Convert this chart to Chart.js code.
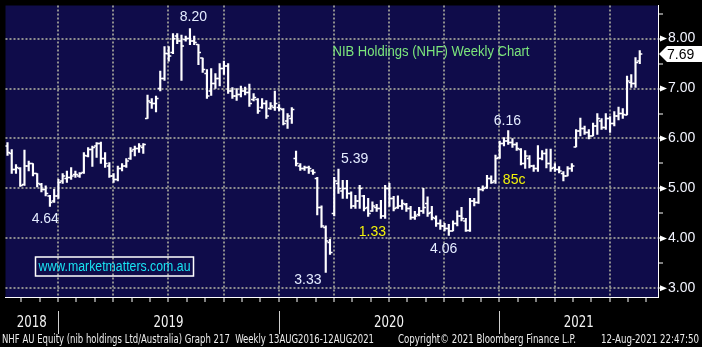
<!DOCTYPE html>
<html>
<head>
<meta charset="utf-8">
<title>NIB Holdings (NHF) Weekly Chart</title>
<script src="https://cdn.jsdelivr.net/npm/chart.js@4"></script>
<style>
  html, body { margin: 0; padding: 0; background: #000; }
  canvas { display: block; }
</style>
</head>
<body>
<canvas id="chart" width="702" height="347"></canvas>
<script>
// weekly bars, week 0 = early Oct 2018, last week = 12 Aug 2021
const open = [5.85,5.70,5.38,5.40,5.08,5.45,5.50,5.30,5.08,4.98,
  4.85,4.75,4.85,5.15,5.20,5.22,5.28,5.25,5.32,5.65,
  5.78,5.85,5.90,5.60,5.45,5.25,5.18,5.40,5.45,5.60,
  5.78,5.80,5.82,6.40,6.72,6.70,7.00,7.20,7.70,7.72,
  8.05,7.95,7.98,8.00,7.95,7.88,7.61,7.30,6.95,7.10,
  7.20,7.40,7.45,6.95,6.85,6.88,6.95,6.92,6.78,6.78,
  6.62,6.70,6.60,6.62,6.62,6.58,6.35,6.40,5.60,5.45,
  5.40,5.42,5.35,5.20,4.62,4.22,3.92,4.50,5.10,4.95,
  5.00,4.90,4.65,4.75,4.85,4.62,4.55,4.62,4.60,4.45,
  5.00,4.80,4.62,4.65,4.68,4.60,4.42,4.48,4.55,4.70,
  4.52,4.40,4.30,4.25,4.20,4.15,4.30,4.45,4.35,4.16,
  4.75,4.72,4.98,5.02,5.20,5.15,5.62,5.90,5.95,5.92,
  5.88,5.78,5.50,5.60,5.45,5.40,5.60,5.70,5.50,5.42,
  5.38,5.30,5.25,5.40,5.83,6.15,6.20,6.12,6.05,6.25,
  6.35,6.22,6.40,6.30,6.45,6.50,6.47,7.12,7.10,7.55];
const high = [5.92,5.78,5.48,5.42,5.77,5.55,5.50,5.30,5.10,5.05,
  4.86,4.98,5.18,5.30,5.35,5.42,5.35,5.32,5.72,5.82,
  5.85,5.92,5.93,5.72,5.52,5.30,5.45,5.50,5.60,5.82,
  5.85,5.90,5.90,6.87,6.80,6.85,7.35,7.84,7.84,8.10,
  8.10,8.07,8.05,8.20,8.05,7.88,7.61,7.38,7.40,7.30,
  7.50,7.55,7.50,7.02,7.00,7.05,7.03,7.09,6.90,6.80,
  6.80,6.76,6.72,6.95,6.68,6.60,6.50,6.62,5.75,5.50,
  5.45,5.45,5.38,5.22,4.65,4.25,3.98,5.22,5.39,5.16,
  5.16,4.93,4.86,5.06,4.86,4.80,4.73,4.68,4.76,5.06,
  5.10,4.84,4.85,4.77,4.70,4.64,4.54,4.62,5.00,4.83,
  4.64,4.45,4.37,4.30,4.28,4.35,4.55,4.62,4.40,4.80,
  4.80,5.02,5.05,5.26,5.25,5.67,5.95,6.02,6.16,6.00,
  5.92,5.80,5.76,5.66,5.47,5.86,5.76,5.79,5.79,5.50,
  5.44,5.34,5.44,5.50,6.18,6.41,6.25,6.18,6.31,6.50,
  6.40,6.50,6.44,6.54,6.63,6.60,7.25,7.28,7.62,7.76];
const low = [5.66,5.30,5.30,5.04,5.06,5.35,5.25,5.03,4.93,4.85,
  4.64,4.72,4.80,5.10,5.12,5.18,5.22,5.22,5.30,5.63,
  5.44,5.62,5.50,5.42,5.22,5.12,5.15,5.35,5.42,5.58,
  5.65,5.72,5.70,6.40,6.60,6.53,6.95,7.16,7.55,7.70,
  7.90,7.16,7.95,7.88,7.88,7.48,7.32,6.80,6.86,7.00,
  7.05,7.28,6.90,6.80,6.76,6.83,6.87,6.64,6.75,6.50,
  6.60,6.40,6.58,6.56,6.55,6.27,6.20,6.30,5.45,5.36,
  5.36,5.30,5.28,4.47,4.22,3.32,3.68,4.45,4.90,4.80,
  4.80,4.60,4.60,4.60,4.55,4.44,4.54,4.54,4.40,4.40,
  4.64,4.55,4.60,4.58,4.54,4.38,4.38,4.45,4.50,4.44,
  4.37,4.24,4.18,4.15,4.06,4.15,4.25,4.35,4.14,4.14,
  4.65,4.70,4.95,5.00,5.10,5.10,5.60,5.85,5.88,5.82,
  5.76,5.47,5.40,5.41,5.34,5.34,5.57,5.41,5.34,5.34,
  5.31,5.15,5.25,5.34,5.83,6.05,6.08,5.99,6.05,6.08,
  6.18,6.18,6.12,6.25,6.37,6.40,6.47,7.02,7.02,7.50];
const close = [5.72,5.38,5.42,5.06,5.45,5.50,5.30,5.10,4.98,4.90,
  4.72,4.85,5.12,5.25,5.22,5.25,5.28,5.30,5.66,5.78,
  5.82,5.90,5.60,5.50,5.25,5.18,5.40,5.45,5.55,5.75,
  5.80,5.85,5.88,6.75,6.70,6.80,7.20,7.70,7.65,8.00,
  7.95,7.85,8.00,7.95,7.92,7.72,7.38,6.85,7.10,7.20,
  7.40,7.45,6.95,6.85,6.88,6.95,6.92,6.70,6.82,6.55,
  6.70,6.45,6.65,6.70,6.60,6.30,6.45,6.58,5.50,5.40,
  5.42,5.40,5.32,4.62,4.25,3.95,3.72,5.15,5.00,5.00,
  4.90,4.65,4.75,5.00,4.60,4.50,4.65,4.60,4.45,5.00,
  4.80,4.60,4.65,4.70,4.60,4.42,4.45,4.55,4.62,4.50,
  4.42,4.30,4.25,4.20,4.15,4.30,4.45,4.40,4.16,4.75,
  4.72,4.98,5.00,5.20,5.12,5.60,5.90,5.95,5.92,5.88,
  5.80,5.50,5.65,5.45,5.40,5.60,5.70,5.50,5.40,5.38,
  5.35,5.25,5.40,5.45,6.15,6.20,6.12,6.05,6.25,6.40,
  6.22,6.40,6.30,6.45,6.50,6.48,7.15,7.10,7.52,7.69];

// axes
const yTicks = [3, 3.5, 4, 4.5, 5, 5.5, 6, 6.5, 7, 7.5, 8, 8.5];
const years = ['2018', '2019', '2020', '2021'];
const yearStarts = [11.92, 63.95, 115.9];   // week index of 1 Jan 2019/2020/2021
const xMin = -0.47, xMax = 153.3;
const yMin = 2.827, yMax = 8.662;

// text on the chart (week, price)
const notes = [
  { text: '8.20', week: 43.8, value: 8.42, color: '#e4ecff' },
  { text: '4.64', week: 8.9, value: 4.38, color: '#e4ecff' },
  { text: '5.39', week: 81.8, value: 5.58, color: '#e4ecff' },
  { text: '1.33', week: 86.0, value: 4.12, color: '#f2f20a' },
  { text: '3.33', week: 70.8, value: 3.16, color: '#e4ecff' },
  { text: '4.06', week: 102.8, value: 3.79, color: '#e4ecff' },
  { text: '6.16', week: 117.8, value: 6.34, color: '#e4ecff' },
  { text: '85c', week: 119.4, value: 5.17, color: '#f2f20a' }
];
const title = { text: 'NIB Holdings (NHF) Weekly Chart', week: 99.8, value: 7.72 };
const footer = [
  'NHF AU Equity (nib holdings Ltd/Australia) Graph 217  Weekly 13AUG2016-12AUG2021',
  'Copyright\u00a9 2021 Bloomberg Finance L.P.',
  '12-Aug-2021 22:47:50'
];

const PLOT_BG = '#0f0c4a';
const GRID = '#8e8e8e';
const FONT = "'Liberation Sans', Arial, sans-serif";
const NARROW = "'Liberation Sans Narrow', 'DejaVu Sans Condensed', 'Liberation Sans', sans-serif";

// month ticks along the bottom, every third one gets a grid line
const monthTicks = [];
for (let m = -2; m <= 32; m++) {
  const w = yearStarts[0] + m * 52 / 12;
  if (w > xMin && w < xMax) monthTicks.push({ value: w, major: m % 3 === 0 });
}

const weeks = close.map((c, i) => i);
const rangeData = weeks.map(i => ({ x: i, y: [low[i], high[i]] }));
const openData = weeks.map(i => ({ x: i - 0.3, y: open[i] }));
const closeData = weeks.map(i => ({ x: i + 0.3, y: close[i] }));

const overlay = {
  id: 'overlay',
  beforeDraw(chart) {
    const { ctx, chartArea: a } = chart;
    ctx.save();
    ctx.fillStyle = '#000';
    ctx.fillRect(0, 0, chart.width, chart.height);
    ctx.fillStyle = PLOT_BG;
    ctx.fillRect(a.left, a.top, a.right - a.left, a.bottom - a.top);
    ctx.restore();
  },
  afterDraw(chart) {
    const { ctx, chartArea: a, scales } = chart;
    const xs = scales.x, ys = scales.y;
    ctx.save();

    // labels on the plot
    ctx.textAlign = 'center';
    ctx.textBaseline = 'middle';
    ctx.font = '14px ' + FONT;
    notes.forEach(n => {
      ctx.fillStyle = n.color;
      ctx.fillText(n.text, xs.getPixelForValue(n.week), ys.getPixelForValue(n.value));
    });
    ctx.font = '14px ' + FONT;
    ctx.fillStyle = '#7ce67c';
    ctx.fillText(title.text, xs.getPixelForValue(title.week), ys.getPixelForValue(title.value), 197);

    // website box
    const bx = a.left + 30, by = a.bottom - 40;
    ctx.strokeStyle = '#fff';
    ctx.lineWidth = 1.5;
    ctx.strokeRect(bx, by, 158, 19);
    ctx.fillStyle = '#19e3f2';
    ctx.font = '14px ' + FONT;
    ctx.fillText('www.marketmatters.com.au', bx + 79, by + 10, 152);

    // arrows at the price levels
    ctx.fillStyle = '#fff';
    yTicks.filter(v => Number.isInteger(v)).forEach(v => {
      const py = ys.getPixelForValue(v);
      ctx.beginPath();
      ctx.moveTo(a.right + 2, py - 3);
      ctx.lineTo(a.right + 9, py);
      ctx.lineTo(a.right + 2, py + 3);
      ctx.closePath();
      ctx.fill();
    });

    // last price tag
    const last = close[close.length - 1];
    const ty = ys.getPixelForValue(last);
    ctx.beginPath();
    ctx.moveTo(a.right + 1, ty);
    ctx.lineTo(a.right + 9, ty - 8);
    ctx.lineTo(chart.width, ty - 8);
    ctx.lineTo(chart.width, ty + 8);
    ctx.lineTo(a.right + 9, ty + 8);
    ctx.closePath();
    ctx.fill();
    ctx.fillStyle = '#000';
    ctx.textAlign = 'left';
    ctx.font = '14px ' + FONT;
    ctx.fillText(last.toFixed(2), a.right + 9, ty + 1);

    // year strip
    const edges = [a.left].concat(yearStarts.map(w => xs.getPixelForValue(w)), [a.right]);
    ctx.fillStyle = '#f4f4f4';
    ctx.textAlign = 'center';
    ctx.font = '16px ' + NARROW;
    years.forEach((yr, i) => {
      ctx.fillText(yr, (edges[i] + edges[i + 1]) / 2, a.bottom + 26, 30);
    });
    ctx.strokeStyle = '#d0d0d0';
    ctx.lineWidth = 1;
    yearStarts.forEach(w => {
      const px = Math.round(xs.getPixelForValue(w)) + 0.5;
      ctx.beginPath();
      ctx.moveTo(px, a.bottom + 14);
      ctx.lineTo(px, a.bottom + 37);
      ctx.stroke();
    });

    // footer
    ctx.font = '12px ' + NARROW;
    ctx.textAlign = 'left';
    ctx.fillStyle = '#ececec';
    ctx.fillText(footer[0], 2, 340, 372);
    ctx.fillText(footer[1], 398, 340, 178);
    ctx.fillText(footer[2], 601, 340, 98);
    ctx.restore();
  }
};

new Chart(document.getElementById('chart'), {
  type: 'bar',
  data: {
    datasets: [
      {
        type: 'bar',
        data: rangeData,
        backgroundColor: '#ffffff',
        borderWidth: 0,
        barThickness: 1.5
      },
      {
        type: 'scatter',
        data: openData,
        pointStyle: 'line',
        pointRadius: 1.3,
        pointBorderWidth: 1.5,
        pointBorderColor: '#ffffff'
      },
      {
        type: 'scatter',
        data: closeData,
        pointStyle: 'line',
        pointRadius: 1.3,
        pointBorderWidth: 1.5,
        pointBorderColor: '#ffffff'
      }
    ]
  },
  options: {
    responsive: false,
    animation: false,
    events: [],
    layout: { padding: 0 },
    plugins: { legend: { display: false }, tooltip: { enabled: false } },
    scales: {
      x: {
        type: 'linear',
        min: xMin,
        max: xMax,
        bounds: 'data',
        offset: false,
        afterBuildTicks: s => { s.ticks = monthTicks.map(t => ({ value: t.value, major: t.major })); },
        afterFit: s => { s.height = 50; s.paddingLeft = 0; s.paddingRight = 0; },
        ticks: { display: false },
        grid: {
          offset: false,
          color: c => (c.tick && c.tick.major) ? GRID : 'rgba(0,0,0,0)',
          lineWidth: 2,
          tickWidth: 1,
          tickLength: 5,
          tickColor: '#ffffff'
        },
        border: { display: true, color: '#ffffff', width: 1, dash: [2, 2] }
      },
      y: {
        type: 'linear',
        position: 'right',
        min: yMin,
        max: yMax,
        bounds: 'data',
        beginAtZero: false,
        afterBuildTicks: s => { s.ticks = yTicks.map(v => ({ value: v })); },
        afterFit: s => { s.width = 44; s.paddingTop = 0; s.paddingBottom = 0; },
        ticks: {
          autoSkip: false,
          padding: 5,
          color: '#f2f4ff',
          font: { family: FONT, size: 14 },
          callback: v => Number.isInteger(v) ? v.toFixed(2) : ''
        },
        grid: {
          color: c => (c.tick && Number.isInteger(c.tick.value)) ? GRID : 'rgba(0,0,0,0)',
          lineWidth: 2,
          tickWidth: 1,
          tickLength: 5,
          tickColor: '#ffffff'
        },
        border: { display: true, color: '#ffffff', width: 1, dash: [2, 2] }
      }
    }
  },
  plugins: [overlay]
});
</script>
</body>
</html>
